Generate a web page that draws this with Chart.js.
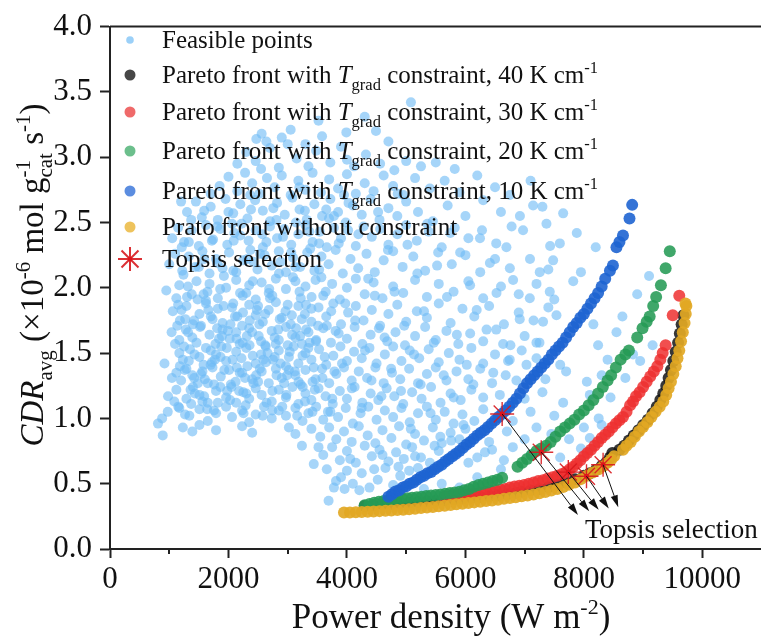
<!DOCTYPE html>
<html>
<head>
<meta charset="utf-8">
<title>CDR vs power density</title>
<script src="https://cdn.jsdelivr.net/npm/chart.js@4.4.0/dist/chart.umd.min.js"></script>
<style>
  html, body { margin: 0; padding: 0; background: #fff; overflow: hidden; }
  #wrap { width: 775px; height: 639px; }
</style>
</head>
<body>
<div id="wrap"><canvas id="cdrChart" width="775" height="639"></canvas></div>
<script>
// ---- data ----
// x = power density (W m-2), y = CDR_avg (1e-6 mol g_cat^-1 s^-1)

const xMajorTicks = [0, 2000, 4000, 6000, 8000, 10000];
const xMinorTicks = [1000, 3000, 5000, 7000, 9000];
const yTicks = [0.0, 0.5, 1.0, 1.5, 2.0, 2.5, 3.0, 3.5, 4.0];

const feasiblePts = [
  [2470,3.14],[2560,3.18],[2640,3.12],[2900,3.15],[3050,3.21],[3300,3.1],[3520,3.28],[3580,3.16],[3990,3.19],[4300,3.31],[4490,3.2],[4700,3.12],[5080,3.42],
  [2150,2.95],[2300,3.04],[2460,2.97],[2550,2.91],[2700,3.07],[2850,2.92],[3000,3.1],[3150,2.99],[3350,2.93],[3480,3.05],[3720,2.96],[3900,3.08],[4000,2.98],[4120,2.93],[4320,3.02],[4560,2.95],[4800,2.9],[5000,2.97],[5250,2.93],[5500,2.96],[5820,2.91],
  [1700,2.72],[1850,2.78],[2000,2.85],[2150,2.74],[2280,2.88],[2400,2.8],[2520,2.72],[2650,2.84],[2780,2.77],[2900,2.86],[3050,2.71],[3180,2.82],[3300,2.75],[3420,2.88],[3560,2.73],[3700,2.83],[3850,2.76],[3950,2.71],[4000,2.87],[4150,2.72],[4300,2.8],[4450,2.74],[4620,2.86],[4780,2.78],[4950,2.71],[5150,2.84],[5400,2.76],[5650,2.82],[5900,2.73],[6200,2.86],[6500,2.77],[6750,2.71],[7100,2.82],
  [1200,2.66],[1300,2.58],[1450,2.66],[1550,2.54],[1700,2.62],[1820,2.52],[1950,2.68],[2080,2.57],[2200,2.64],[2320,2.53],[2380,2.6],[2450,2.67],[2580,2.59],[2700,2.51],[2820,2.65],[2950,2.56],[3080,2.69],[3200,2.6],[3320,2.52],[3450,2.64],[3580,2.55],[3650,2.6],[3720,2.68],[3850,2.58],[3980,2.5],[4100,2.63],[4250,2.56],[4400,2.68],[4550,2.52],[4700,2.61],[4850,2.55],[5000,2.66],[5200,2.58],[5450,2.51],[5700,2.63],[6000,2.55],[6300,2.67],[6600,2.58],[6920,2.55],[7300,2.62],[7650,2.57],
  [1050,2.38],[1150,2.46],[1250,2.35],[1380,2.44],[1500,2.32],[1620,2.48],[1740,2.37],[1860,2.45],[1980,2.33],[2100,2.42],[2220,2.49],[2340,2.36],[2460,2.44],[2580,2.31],[2700,2.47],[2820,2.38],[2940,2.45],[3060,2.33],[3180,2.41],[3300,2.48],[3420,2.35],[3540,2.43],[3660,2.31],[3780,2.46],[3900,2.38],[4020,2.44],[4150,2.32],[4280,2.47],[4420,2.39],[4560,2.45],[4700,2.33],[4850,2.41],[5000,2.48],[5180,2.36],[5380,2.43],[5600,2.31],[5820,2.46],[6050,2.38],[6280,2.44],[6520,2.34],[6780,2.47],[7430,2.32],[7880,2.42],
  [1000,2.18],[1100,2.26],[1220,2.13],[1330,2.24],[1440,2.16],[1560,2.28],[1680,2.11],[1790,2.22],[1900,2.15],[2010,2.27],[2130,2.12],[2250,2.21],[2370,2.29],[2490,2.14],[2610,2.25],[2730,2.17],[2850,2.28],[2970,2.12],[3090,2.23],[3210,2.16],[3330,2.27],[3450,2.13],[3570,2.24],[3690,2.18],[3810,2.29],[3930,2.11],[4060,2.22],[4190,2.15],[4330,2.26],[4470,2.12],[4620,2.21],[4780,2.28],[4940,2.16],[5120,2.24],[5320,2.13],[5540,2.27],[5770,2.18],[6000,2.25],[6250,2.12],[6500,2.22],[6750,2.15],[7090,2.22],[7400,2.14],[7820,2.05],[9100,2.09],
  [950,1.98],[1170,2.02],[1300,1.93],[1460,2.05],[1580,1.95],[1680,2.03],[1820,1.92],[1960,2.0],[2130,2.06],[2240,1.94],[2350,2.02],[2460,1.91],[2560,2.04],[2680,1.96],[2800,2.07],[2970,1.99],[3130,2.05],[3220,1.92],[3300,2.01],[3470,2.06],[3600,1.94],[3750,2.03],[3880,1.91],[4000,2.0],[4150,2.07],[4300,1.95],[4450,2.04],[4600,1.92],[4780,2.01],[4950,1.96],[5150,2.06],[5350,1.93],[5550,2.03],[5800,1.97],[6050,2.05],[6300,1.92],[6600,2.01],[6900,1.95],[7200,2.03],[7500,1.91],
  [1060,1.82],[1180,1.75],[1290,1.86],[1400,1.72],[1510,1.8],[1620,1.88],[1730,1.76],[1820,1.84],[1900,1.73],[2060,1.85],[2150,1.78],[2230,1.71],[2350,1.87],[2460,1.79],[2580,1.74],[2680,1.83],[2800,1.89],[2900,1.77],[3050,1.72],[3180,1.86],[3290,1.8],[3400,1.74],[3520,1.85],[3650,1.78],[3770,1.88],[3900,1.72],[4020,1.81],[4150,1.86],[4280,1.75],[4420,1.83],[4560,1.71],[4700,1.8],[4850,1.87],[5000,1.74],[5180,1.82],[5350,1.77],[5550,1.88],[5750,1.73],[5950,1.84],[6150,1.78],[6400,1.86],[6650,1.72],[6900,1.81],[7150,1.75],[7400,1.85],[8160,1.72],[8550,1.66],
  [1040,1.66],[1170,1.6],[1280,1.68],[1390,1.62],[1520,1.7],[1680,1.64],[1780,1.57],[1900,1.68],[2020,1.61],[2130,1.66],[2240,1.58],[2350,1.69],[2510,1.63],[2620,1.56],[2730,1.67],[2850,1.6],[2970,1.7],[3130,1.62],[3240,1.57],[3350,1.66],[3480,1.6],[3600,1.69],[3730,1.58],[3860,1.65],[4000,1.61],[4130,1.7],[4260,1.57],[4400,1.64],[4540,1.69],[4680,1.59],[4820,1.66],[4980,1.56],[5150,1.63],[5320,1.7],[5500,1.6],[5680,1.67],[5880,1.57],[6080,1.65],[6300,1.59],[6520,1.68],[6760,1.56],[7000,1.63],[7250,1.58],[8240,1.56],[9160,1.56],
  [920,1.42],[1170,1.5],[1230,1.45],[1350,1.53],[1510,1.47],[1620,1.54],[1720,1.43],[1790,1.49],[1880,1.55],[1960,1.44],[2130,1.51],[2220,1.46],[2300,1.54],[2460,1.42],[2550,1.49],[2630,1.55],[2750,1.45],[2850,1.52],[3020,1.47],[3100,1.55],[3180,1.42],[3300,1.5],[3400,1.45],[3530,1.53],[3650,1.41],[3770,1.48],[3890,1.55],[4000,1.44],[4120,1.51],[4250,1.46],[4380,1.54],[4500,1.42],[4640,1.49],[4780,1.55],[4920,1.44],[5060,1.52],[5220,1.46],[5380,1.53],[5550,1.43],[5720,1.5],[5900,1.45],[6100,1.54],[6300,1.42],[6500,1.49],[6720,1.44],[6950,1.52],[7200,1.46],[7600,1.41],[8400,1.45],[8830,1.49],
  [1120,1.35],[1200,1.29],[1290,1.38],[1420,1.31],[1560,1.36],[1650,1.27],[1730,1.39],[1870,1.32],[2010,1.37],[2120,1.28],[2230,1.35],[2320,1.4],[2400,1.3],[2560,1.36],[2680,1.27],[2800,1.38],[2900,1.31],[2970,1.4],[3130,1.33],[3220,1.26],[3300,1.37],[3470,1.3],[3580,1.38],[3700,1.27],[3820,1.34],[3950,1.39],[4080,1.29],[4200,1.36],[4340,1.31],[4480,1.39],[4620,1.27],[4760,1.35],[4900,1.3],[5050,1.38],[5200,1.27],[5350,1.34],[5500,1.39],[5680,1.29],[5850,1.36],[6050,1.3],[6250,1.38],[6450,1.27],[6680,1.33],[7350,1.3],[7700,1.36],[8050,1.28],
  [980,1.17],[1120,1.22],[1290,1.15],[1400,1.24],[1510,1.18],[1650,1.12],[1790,1.21],[1960,1.16],[2050,1.24],[2130,1.12],[2250,1.2],[2350,1.15],[2460,1.23],[2560,1.18],[2730,1.13],[2850,1.22],[2970,1.16],[3080,1.24],[3180,1.11],[3300,1.19],[3400,1.14],[3520,1.23],[3640,1.17],[3760,1.11],[3880,1.21],[4000,1.15],[4130,1.24],[4260,1.12],[4400,1.19],[4530,1.14],[4670,1.23],[4800,1.17],[4950,1.11],[5100,1.2],[5260,1.15],[5420,1.24],[5580,1.12],[5750,1.19],[5920,1.14],[6100,1.22],[6300,1.16],[7000,1.15],[7300,1.2],[7650,1.12],[8100,1.18],
  [880,1.0],[975,1.05],[1170,1.08],[1340,1.02],[1510,1.07],[1650,0.98],[1790,1.04],[1960,1.09],[2060,1.01],[2230,1.06],[2350,0.97],[2460,1.03],[2600,1.09],[2730,1.0],[2850,1.06],[2970,1.02],[3130,1.08],[3250,0.98],[3350,1.04],[3480,1.09],[3600,0.99],[3720,1.05],[3850,1.01],[3980,1.08],[4100,0.96],[4230,1.04],[4360,1.09],[4500,0.99],[4640,1.06],[4780,1.01],[4920,1.08],[5060,0.97],[5200,1.04],[5350,1.09],[5500,0.99],[5650,1.05],[5800,0.96],[5950,1.03],[6150,0.98],[6800,0.98],[7100,1.05],[7500,1.02],[8250,1.0],
  [810,0.96],[890,0.87],[1230,0.93],[1390,0.9],[1510,0.95],[1790,0.91],[2230,0.94],[2400,0.89],[3020,0.93],[3130,0.88],[3240,0.79],[3400,0.92],[3550,0.86],[3700,0.93],[3820,0.84],[3950,0.9],[4080,0.82],[4200,0.94],[4350,0.87],[4480,0.81],[4600,0.91],[4750,0.85],[4880,0.94],[5000,0.8],[5150,0.88],[5300,0.83],[5450,0.93],[5600,0.81],[5750,0.89],[5900,0.84],[6000,0.92],[6400,0.82],[6700,0.9],[7000,0.84],[7200,0.93],[8100,0.85],[8300,0.95],
  [3440,0.65],[3600,0.72],[3750,0.78],[3880,0.68],[4000,0.75],[4150,0.66],[4300,0.79],[4420,0.71],[4550,0.76],[4700,0.67],[4830,0.74],[4960,0.69],[5100,0.78],[5250,0.7],[5400,0.66],[5550,0.75],[5700,0.69],[6200,0.7],[6450,0.76],[6650,0.68],[6800,0.78],[7600,0.7],[7950,0.77],
  [3690,0.37],[3780,0.47],[3900,0.55],[3960,0.46],[4000,0.6],[4100,0.5],[4250,0.58],[4380,0.47],[4520,0.53],[4650,0.62],[4780,0.49],[4900,0.56],[5050,0.6],[5200,0.62],[5300,0.46],[5600,0.5],[5900,0.47],[6200,0.55],
  // extra points where the cloud is densest
  [1250,1.55],[1330,1.44],[1460,1.58],[1580,1.41],[1700,1.52],[1840,1.61],[1930,1.37],[2070,1.45],[2190,1.57],[2280,1.31],[2410,1.48],[2530,1.38],[2660,1.5],[2780,1.62],[2880,1.42],[3000,1.56],[3120,1.36],[3250,1.48],[3370,1.58],[1180,1.4],
  [1360,1.22],[1600,1.3],[1820,1.12],[2040,1.26],[2290,1.1],[2500,1.28],[2740,1.06],[2940,1.27],[3160,1.02],[3420,1.28],[1420,1.75],[1660,1.83],[1890,1.63],[2110,1.78],[2400,1.66],[2620,1.8],[2840,1.68],[3070,1.79],[3310,1.68],[1380,1.95],
  [1620,1.9],[1860,1.99],[2080,1.88],[2300,1.96],[2500,1.86],[2740,1.94],[3000,1.87],[3200,1.97],[3400,1.84],[1120,1.92],[1240,2.1],[1500,2.16],[1720,2.36],[2000,2.58],[2200,2.4],[2420,2.2],[2640,2.35],[2880,2.2],[3140,2.5],[3380,2.3],
  [1085,1.13],[1135,1.71],[1212,2.31],[1267,1.03],[1318,1.66],[1371,2.52],[1433,1.19],[1479,1.91],[1537,1.34],[1592,2.22],[1641,1.07],[1703,1.78],[1757,1.26],[1811,2.47],[1866,1.47],[1923,2.09],[1977,1.21],[2033,1.72],[2088,2.36],[2141,1.39],
  [2196,1.96],[2254,1.04],[2311,1.63],[2367,2.71],[2422,1.27],[2479,1.83],[2534,2.26],[2589,1.45],[2643,1.12],[2701,1.92],[2757,2.61],[2812,1.33],[2866,1.76],[2921,2.39],[2978,1.18],[3034,1.51],[3089,2.08],[3142,1.69],[3197,2.77],[3253,1.24],
  [3309,1.87],[3364,2.43],[3418,1.05],[3476,1.59],[3531,2.14],[3586,1.31],[3641,1.97],[3697,2.53],[3752,1.15],[3808,1.67],[3861,2.34],[3917,1.42],[3972,1.88],[4027,2.65],[4083,1.23],[4139,1.75],[4193,2.41],[4248,1.08],[4305,1.52],[4359,2.07],
  [4414,1.29],[4471,1.94],[4526,2.58],[4581,1.17],[4636,1.62],[4692,2.29],[4746,1.38],[4803,1.97],[4857,2.72],[4912,1.21],[4967,1.71],[5022,2.33],[5078,0.92],[5133,1.49],[5189,2.11],[5244,1.26],[5301,1.82],[5357,2.49],[5411,1.04],[5466,1.58],
  [5522,2.17],[5577,0.86],[5634,1.33],[5689,1.93],[5745,2.42],[5801,1.16],[5856,1.64],[5911,2.27],[5968,0.95],[6023,1.41],[6079,2.02],[6134,1.26],[6190,1.83],[6246,2.38],[6301,1.07],[6357,1.68],[6413,2.19],[6470,1.35],[6525,1.96],[6581,1.18],
  [6637,1.57],[6692,2.31],[6748,1.45],[6805,2.06],[6861,1.29],[6917,1.76],[6973,2.44],[7031,1.41],[7087,1.92],[7143,2.63],[7199,1.58],[7255,2.12],[7311,1.74],[7368,2.49],[7424,1.97],[7481,2.21],[7537,1.79],[7594,2.34],
  [3520,0.78],[3660,0.61],[3815,0.52],[4055,0.69],[4210,0.45],[4460,0.61],[4600,0.72],[4870,0.63],[5150,0.71],[5480,0.79],[5760,0.83],[6050,0.66],[6330,0.74],[6600,0.61],[7100,0.72],[7450,0.88],[7750,0.84],[8000,0.93],
  [8450,1.16],[8700,1.31],[8950,1.44],[8300,1.33],[8650,1.78],[8900,1.95],[7950,2.12],[8200,2.31],
  [1045,1.31],[1098,1.57],[1153,1.09],[1207,1.83],[1262,1.37],[1316,2.01],[1371,1.11],[1427,1.49],[1483,1.27],[1536,1.71],[1589,1.17],[1645,1.97],[1699,1.41],[1754,1.06],[1808,1.69],[1863,1.24],[1917,1.86],[1972,1.54],[2027,1.14],[2081,2.13],
  [2136,1.61],[2190,1.35],[2245,1.81],[2301,1.19],[2356,1.56],[2412,2.05],[2467,1.33],[2521,1.72],[2577,1.02],[2633,1.43],[2688,1.99],[2742,1.21],[2797,1.57],[2853,2.11],[2908,1.09],[2963,1.82],[3019,1.37],[3074,1.64],[3128,2.16],[3183,1.28],
  [3238,1.76],[3292,1.13],[3349,1.54],[3403,1.93],[3458,1.22],[3513,1.71],[3568,2.08],[3624,1.47],[3679,1.05],[3734,1.82],[3789,1.36],[1150,1.87],[1270,1.76],[1390,1.33],[1560,1.13],[1770,1.45],[1990,1.67],[2180,1.21],[2360,1.75],[2550,1.59],
  [2780,1.47],[2990,1.33],[3210,1.63],[3440,1.39],[3660,1.71],[1330,2.35],[1590,2.59],[1810,2.19],[2060,2.49],[2320,2.22],[2570,2.41],[2810,2.52],[3060,2.27],[3290,2.59],[3530,2.34],[3780,2.55]
];

// Pareto front, 40 K cm-1 (mostly hidden under the unconstrained front)
const front40 = [
  [4300,0.33],[4450,0.335],[4600,0.34],[4750,0.345],[4900,0.35],[5050,0.355],[5200,0.36],[5350,0.365],[5500,0.37],[5650,0.375],[5800,0.38],[5950,0.386],
  [6100,0.392],[6250,0.398],[6400,0.405],[6550,0.412],[6700,0.42],[6850,0.43],[6950,0.44],[7100,0.45],[7250,0.46],[7400,0.475],[7550,0.49],[7700,0.51],
  [7850,0.535],[8000,0.56],[8100,0.58],[8200,0.605],[8300,0.635],[8380,0.665],[8440,0.70],[8480,0.735],
  [8600,0.76],[8680,0.79],[8760,0.83],[8840,0.87],[8920,0.91],[9000,0.95],[9080,0.99],[9160,1.04],[9230,1.09],[9290,1.14],[9340,1.19],[9390,1.25],
  [9430,1.31],[9470,1.37],[9510,1.44],[9550,1.51],[9590,1.58],[9620,1.65],[9650,1.72],[9680,1.79]
];

// Pareto front, 30 K cm-1
const front30 = [
  [5650,0.40],[5750,0.405],[5850,0.41],[5950,0.413],[6030,0.415],[6110,0.42],[6190,0.425],[6270,0.43],[6350,0.438],[6430,0.443],[6510,0.45],[6590,0.455],
  [6670,0.46],[6750,0.47],[6830,0.478],[6910,0.485],[6990,0.49],[7070,0.50],[7150,0.51],[7230,0.52],[7310,0.527],[7390,0.54],[7470,0.55],[7550,0.56],
  [7630,0.575],[7700,0.59],[7760,0.61],[7820,0.63],[7880,0.655],[7940,0.68],[8000,0.71],[8060,0.735],[8120,0.76],[8180,0.79],[8240,0.82],[8300,0.85],
  [8360,0.875],[8420,0.90],[8480,0.93],[8540,0.96],[8600,0.985],[8660,1.01],[8720,1.05],[8780,1.10],[8830,1.13],[8880,1.17],[8940,1.20],[9000,1.24],
  [9060,1.28],[9120,1.32],[9180,1.36],[9240,1.40],[9290,1.45],[9330,1.50],[9380,1.56],[9500,1.79],[9610,1.94]
];

// Pareto front, 20 K cm-1
const front20 = [
  [4300,0.335],[4380,0.345],[4460,0.355],[4540,0.362],[4620,0.367],[4700,0.372],[4780,0.376],[4860,0.38],[4940,0.385],[5020,0.389],[5100,0.393],[5180,0.397],
  [5260,0.40],[5340,0.405],[5420,0.41],[5500,0.413],[5580,0.418],[5660,0.423],[5740,0.428],[5820,0.433],[5900,0.438],[5980,0.45],[6060,0.46],[6140,0.476],
  [6220,0.49],[6300,0.50],[6380,0.51],[6460,0.52],[6540,0.53],[6620,0.545],
  [6880,0.63],[6960,0.66],[7040,0.69],[7120,0.72],[7200,0.75],[7280,0.77],[7360,0.79],[7440,0.82],[7520,0.86],[7600,0.90],[7680,0.93],[7760,0.96],
  [7840,0.99],[7920,1.03],[8000,1.06],[8080,1.10],[8160,1.14],[8240,1.19],[8320,1.24],[8400,1.29],[8460,1.33],[8540,1.39],[8620,1.45],[8700,1.49],
  [8760,1.52],[8900,1.62],[8990,1.69],[9060,1.74],[9110,1.78],[9170,1.86],[9220,1.93],[9300,2.02],[9380,2.15],[9450,2.28]
];

// Pareto front, 10 K cm-1
const front10 = [
  [4700,0.40],[4760,0.42],[4820,0.44],[4880,0.45],[4940,0.47],[5000,0.48],[5060,0.50],[5120,0.51],[5180,0.53],[5240,0.55],[5300,0.56],[5360,0.58],
  [5420,0.59],[5480,0.61],[5540,0.63],[5600,0.645],[5660,0.67],[5720,0.69],[5780,0.71],[5840,0.73],[5900,0.75],[5960,0.775],[6020,0.80],[6080,0.82],
  [6140,0.845],[6200,0.87],[6260,0.89],[6320,0.91],[6380,0.935],[6440,0.96],[6500,0.985],[6560,1.01],[6620,1.035],[6680,1.06],[6740,1.09],[6800,1.12],
  [6860,1.15],[6920,1.19],[6980,1.23],[7040,1.27],[7100,1.30],[7160,1.33],[7220,1.36],[7280,1.39],[7340,1.42],[7400,1.45],[7460,1.49],[7520,1.52],
  [7580,1.55],[7640,1.58],[7700,1.62],[7760,1.66],[7820,1.70],[7880,1.73],[7940,1.77],[8000,1.80],[8060,1.84],[8120,1.88],[8180,1.92],[8240,1.96],
  [8300,2.01],[8360,2.07],[8440,2.13],[8490,2.17],[8550,2.31],[8600,2.35],[8660,2.40],[8770,2.53],[8815,2.635]
];

// front without constraint
const frontFree = [
  [3950,0.28],[4050,0.28],[4150,0.282],[4250,0.284],[4350,0.286],[4450,0.288],[4550,0.29],[4650,0.292],[4750,0.295],[4850,0.298],[4950,0.301],[5050,0.305],
  [5150,0.309],[5250,0.313],[5350,0.318],[5450,0.322],[5550,0.327],[5650,0.332],[5750,0.337],[5850,0.342],[5950,0.347],[6050,0.352],[6150,0.357],[6250,0.362],
  [6350,0.367],[6450,0.372],[6550,0.378],[6650,0.384],[6750,0.39],[6850,0.396],[6950,0.403],[7050,0.41],[7150,0.418],[7250,0.427],[7350,0.437],[7450,0.448],
  [7550,0.46],[7650,0.475],[7750,0.492],[7850,0.51],[7950,0.535],[8050,0.56],[8150,0.585],[8250,0.61],[8330,0.635],[8400,0.66],[8460,0.685],[8510,0.71],
  [8660,0.76],[8720,0.79],[8790,0.82],[8860,0.86],[8930,0.90],[9000,0.935],[9070,0.97],[9140,1.01],[9210,1.05],[9280,1.09],[9340,1.13],[9390,1.18],
  [9430,1.23],[9470,1.28],[9510,1.34],[9550,1.40],[9580,1.46],[9610,1.52],[9640,1.59],[9670,1.66],[9700,1.73],[9720,1.80],[9730,1.86],[9715,1.88]
];

// Topsis picks (10, 20, 30, 40 K cm-1, no constraint) and where their arrows end
const topsisX = [6620, 7280, 7737, 8044, 8324];
const topsisY = [1.034, 0.741, 0.589, 0.557, 0.645];
const arrowEndX = [7900, 8090, 8250, 8420, 8580];
const arrowEndY = [0.26, 0.29, 0.30, 0.31, 0.32];

const legendLabels = [
  'Feasible points',
  'Pareto front with T_grad constraint, 40 K cm-1',
  'Pareto front with T_grad constraint, 30 K cm-1',
  'Pareto front with T_grad constraint, 20 K cm-1',
  'Pareto front with T_grad constraint, 10 K cm-1',
  'Prato front without constraint',
  'Topsis selection'
];

// ---- styling ----
const SERIF = '"Liberation Serif", "Times New Roman", serif';
const colFeasible = 'rgba(112,188,245,0.62)';
const colBlack = 'rgba(20,20,20,0.85)';
const colRed = 'rgba(238,48,48,0.85)';
const colGreen = 'rgba(38,155,85,0.88)';
const colBlue = 'rgba(30,100,210,0.9)';
const colYellow = 'rgba(226,168,36,0.92)';
const colStar = 'rgba(215,25,30,0.9)';

const toXY = pts => pts.map(p => ({ x: p[0], y: p[1] }));

// draw a run of text pieces (sub/superscripts, italics) from left to right
function richText(ctx, parts, x, y, base, draw) {
  let cx = x;
  parts.forEach(p => {
    ctx.font = (p.it ? 'italic ' : '') + (p.s || base) + 'px ' + SERIF;
    if (draw) ctx.fillText(p.t, cx, y + (p.dy || 0));
    if (!p.keep) cx += ctx.measureText(p.t).width;
  });
  return cx - x;
}

// legend label -> text pieces
function labelParts(label) {
  const m = label.match(/^(.*?)T_grad(.*?)cm-1$/);
  if (!m) return [{ t: label }];
  return [
    { t: m[1] }, { t: 'T', it: true }, { t: 'grad', s: 16.5, dy: 7 },
    { t: m[2] + 'cm' }, { t: '-1', s: 16.5, dy: -10 }
  ];
}

const legendMarkers = [
  { c: 'rgba(112,188,245,0.7)', r: 3.8 },
  { c: '#474747', r: 5.5 },
  { c: '#ef6a6a', r: 5.5 },
  { c: '#6cbf8c', r: 5.5 },
  { c: '#5b8de0', r: 5.5 },
  { c: '#eec35c', r: 5.5 },
  { star: true, r: 12 }
];
const legendBaselines = [48, 83, 120, 159, 199, 235, 267];

const yTitleParts = [
  { t: 'CDR', it: true }, { t: 'avg', s: 21, dy: 9 },
  { t: ' (\u00d710' }, { t: '-6', s: 21, dy: -13 },
  { t: ' mol g' }, { t: '-1', s: 21, dy: -13, keep: true }, { t: 'cat', s: 21, dy: 9 },
  { t: ' s' }, { t: '-1', s: 21, dy: -13 }, { t: ')' }
];
const xTitleParts = [{ t: 'Power density (W m' }, { t: '-2', s: 22, dy: -14 }, { t: ')' }];

const decorPlugin = {
  id: 'decor',
  afterDatasetsDraw(chart) {
    const ctx = chart.ctx, xs = chart.scales.x, ys = chart.scales.y;
    ctx.save();
    ctx.strokeStyle = '#111';
    ctx.fillStyle = '#111';
    ctx.lineWidth = 1;
    topsisX.forEach((v, i) => {
      const x0 = xs.getPixelForValue(v), y0 = ys.getPixelForValue(topsisY[i]);
      const x1 = xs.getPixelForValue(arrowEndX[i]), y1 = ys.getPixelForValue(arrowEndY[i]);
      const ang = Math.atan2(y1 - y0, x1 - x0);
      const hl = 12, hw = 3.6;
      const bx = x1 - hl * Math.cos(ang), by = y1 - hl * Math.sin(ang);
      ctx.beginPath();
      ctx.moveTo(x0, y0);
      ctx.lineTo(bx, by);
      ctx.stroke();
      ctx.beginPath();
      ctx.moveTo(x1, y1);
      ctx.lineTo(bx + hw * Math.sin(ang), by - hw * Math.cos(ang));
      ctx.lineTo(bx - hw * Math.sin(ang), by + hw * Math.cos(ang));
      ctx.closePath();
      ctx.fill();
    });
    ctx.restore();
  },
  afterDraw(chart) {
    const ctx = chart.ctx, a = chart.chartArea, xs = chart.scales.x;
    ctx.save();

    // top frame line
    ctx.strokeStyle = '#222';
    ctx.lineWidth = 2;
    ctx.beginPath();
    ctx.moveTo(a.left, a.top);
    ctx.lineTo(a.right + 10, a.top);
    ctx.stroke();

    // minor x ticks
    ctx.beginPath();
    xMinorTicks.forEach(v => {
      const px = Math.round(xs.getPixelForValue(v));
      ctx.moveTo(px, a.bottom);
      ctx.lineTo(px, a.bottom + 5);
    });
    ctx.stroke();

    // legend
    ctx.fillStyle = '#111';
    ctx.textBaseline = 'alphabetic';
    legendLabels.forEach((lab, i) => {
      const mk = legendMarkers[i], by = legendBaselines[i], my = by - 8;
      if (mk.star) {
        ctx.save();
        ctx.strokeStyle = colStar;
        Chart.helpers.drawPoint(ctx, { pointStyle: 'star', radius: mk.r, borderWidth: 1.4 }, 130, my);
        ctx.fillStyle = '#e0141c';
        ctx.beginPath();
        ctx.arc(130, my, 2.3, 0, Math.PI * 2);
        ctx.fill();
        ctx.restore();
      } else {
        ctx.fillStyle = mk.c;
        ctx.beginPath();
        ctx.arc(130, my, mk.r, 0, Math.PI * 2);
        ctx.fill();
      }
      ctx.fillStyle = '#111';
      richText(ctx, labelParts(lab), 162, by, 25, true);
    });

    // annotation text
    ctx.font = '27px ' + SERIF;
    ctx.fillText('Topsis selection', 585, 538);

    // x title
    const wx = richText(ctx, xTitleParts, 0, 0, 35, false);
    richText(ctx, xTitleParts, 451 - wx / 2, 628, 35, true);

    // y title, rotated
    ctx.translate(43, 275);
    ctx.rotate(-Math.PI / 2);
    const wy = richText(ctx, yTitleParts, 0, 0, 33, false);
    richText(ctx, yTitleParts, -wy / 2, 0, 33, true);

    ctx.restore();
  }
};

const pointSet = (label, pts, color, r, order) => ({
  label: label,
  data: toXY(pts),
  backgroundColor: color,
  borderWidth: 0,
  pointRadius: r,
  order: order
});

const ctxEl = document.getElementById('cdrChart');
const cdrChart = new Chart(ctxEl, {
  type: 'scatter',
  data: {
    datasets: [
      pointSet(legendLabels[0], feasiblePts, colFeasible, 5, 20),
      pointSet(legendLabels[1], front40, colBlack, 6, 19),
      pointSet(legendLabels[2], front30, colRed, 6, 18),
      pointSet(legendLabels[3], front20, colGreen, 6, 17),
      pointSet(legendLabels[4], front10, colBlue, 6, 16),
      pointSet(legendLabels[5], frontFree, colYellow, 6, 15),
      {
        label: legendLabels[6],
        data: topsisX.map((v, i) => ({ x: v, y: topsisY[i] })),
        pointStyle: 'star',
        pointRadius: 12,
        borderColor: colStar,
        borderWidth: 1.4,
        backgroundColor: 'rgba(0,0,0,0)',
        order: 2
      },
      {
        label: 'star centres',
        data: topsisX.map((v, i) => ({ x: v, y: topsisY[i] })),
        pointRadius: 2.4,
        borderWidth: 0,
        backgroundColor: '#e0141c',
        order: 1
      }
    ]
  },
  options: {
    responsive: false,
    animation: false,
    devicePixelRatio: 1,
    events: [],
    layout: { padding: { top: 22, right: 9, left: 0, bottom: 0 } },
    plugins: {
      legend: { display: false },
      tooltip: { enabled: false }
    },
    scales: {
      x: {
        type: 'linear',
        min: 0,
        max: 11000,
        afterFit: s => { s.height = 90; },
        afterBuildTicks: s => { s.ticks = xMajorTicks.concat(xMinorTicks).concat([11000]).sort((p, q) => p - q).map(v => ({ value: v })); },
        border: { display: true, color: '#222', width: 2 },
        grid: {
          drawOnChartArea: false,
          drawTicks: true,
          tickLength: 9,
          tickWidth: 2,
          tickColor: c => (xMajorTicks.includes(c.tick && c.tick.value) ? '#222' : 'rgba(0,0,0,0)')
        },
        ticks: {
          autoSkip: false,
          maxRotation: 0,
          padding: 3,
          color: '#111',
          font: { family: SERIF, size: 31 },
          callback: v => (xMajorTicks.includes(v) ? String(v) : '')
        }
      },
      y: {
        type: 'linear',
        min: 0,
        max: 4,
        afterFit: s => { s.width = 110; },
        afterBuildTicks: s => { s.ticks = yTicks.map(v => ({ value: v })); },
        border: { display: true, color: '#222', width: 2 },
        grid: {
          drawOnChartArea: false,
          drawTicks: true,
          tickLength: 10,
          tickWidth: 2,
          tickColor: '#222'
        },
        ticks: {
          padding: 8,
          color: '#111',
          font: { family: SERIF, size: 31 },
          callback: v => v.toFixed(1)
        }
      }
    }
  },
  plugins: [decorPlugin]
});
</script>
</body>
</html>
